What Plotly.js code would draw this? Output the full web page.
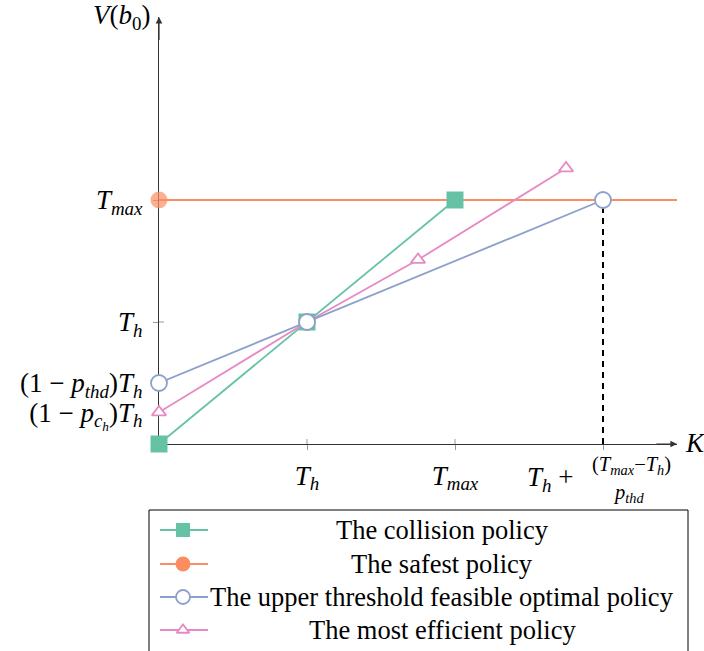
<!DOCTYPE html>
<html>
<head>
<meta charset="utf-8">
<script src="https://cdn.plot.ly/plotly-3.0.1.min.js"></script>
<style>html,body{margin:0;padding:0;background:#fff;}#chart{width:704px;height:651px;}</style>
</head>
<body>
<div id="chart"></div>
<script>
// ---- data ----
const seriesNames = ['The collision policy', 'The safest policy', 'The upper threshold feasible optimal policy', 'The most efficient policy'];
const collisionX = [0, 1, 2];
const collisionY = [0, 1, 2];
const safestX = [0, 3.5];
const safestY = [2, 2];
const thresholdX = [0, 1, 3];
const thresholdY = [0.5, 1, 2];
const efficientX = [0, 1, 1.75, 2.75];
const efficientY = [0.26, 1, 1.51, 2.26];
const dropX = [3, 3];
const dropY = [0, 2];
const xTickVals = [1, 2, 3];
const xTickText = ['<i>T<sub>h</sub></i>', '<i>T<sub>max</sub></i>', ''];
const yTickVals = [0.26, 0.5, 1, 2];
const yTickText = ['(1 − <i>p<sub>c<sub>h</sub></sub></i>)<i>T<sub>h</sub></i>', '(1 − <i>p<sub>thd</sub></i>)<i>T<sub>h</sub></i>', '<i>T<sub>h</sub></i>', '<i>T<sub>max</sub></i>'];
const xAxisLabel = '<i>K</i>';
const yAxisLabel = '<i>V</i>(<i>b</i><sub>0</sub>)';
const lastTickParts = ['<i>T<sub>h</sub></i> +', '(<i>T<sub>max</sub></i>−<i>T<sub>h</sub></i>)', '<i>p<sub>thd</sub></i>'];

// ---- styles ----
const colors = ['#66c2a5', '#fc8d62', '#8da0cb', '#e78ac3'];
const FONT = 'Liberation Serif, Times New Roman, serif';
const FS = 26.5;
const TFS = 27;
const W = 704, H = 651;
const plotL = 159, plotR = 677, plotT = 17, plotB = 444;
const legL = 149, legR = 688, legT = 510;

const markers = [
  {symbol: 'square', size: 17, color: colors[0], line: {width: 0}},
  {symbol: 'circle', size: 17, color: colors[1], line: {width: 0}},
  {symbol: 'circle', size: 16, color: '#ffffff', line: {width: 1.8, color: colors[2]}},
  {symbol: 'triangle-up', size: 12.5, color: '#ffffff', line: {width: 1.8, color: colors[3]}}
];
const legMarkers = [
  {symbol: 'square', size: 14, color: colors[0], line: {width: 0}},
  {symbol: 'circle', size: 15, color: colors[1], line: {width: 0}},
  {symbol: 'circle', size: 14, color: '#ffffff', line: {width: 1.8, color: colors[2]}},
  {symbol: 'triangle-up', size: 11, color: '#ffffff', line: {width: 1.8, color: colors[3]}}
];

const seriesX = [collisionX, safestX, thresholdX, efficientX];
const seriesY = [collisionY, safestY, thresholdY, efficientY];

const traces = [];
// dashed drop line (below markers)
traces.push({x: dropX, y: dropY, type: 'scatter', mode: 'lines', line: {color: '#000', width: 2, dash: '6px,5px'}, showlegend: false, hoverinfo: 'skip', cliponaxis: false});

const drawOrder = [1, 0, 3, 2];
drawOrder.forEach(i => {
  const mk = Object.assign({}, markers[i]);
  if (i === 1) mk.size = seriesX[i].map((v, k) => k === 0 ? markers[i].size : 0);
  traces.push({
    x: seriesX[i], y: seriesY[i], type: 'scatter', mode: 'lines+markers',
    name: seriesNames[i], line: {color: colors[i], width: 1.8}, marker: mk,
    showlegend: false, cliponaxis: false
  });
});

// manual legend (centered text) in a second subplot
const rowY = [20, 54, 87, 120];
const symX0 = 11, symX1 = 59, symXm = 34, textX = 293;
seriesNames.forEach((n, i) => {
  traces.push({x: [symX0, symX1], y: [rowY[i], rowY[i]], xaxis: 'x2', yaxis: 'y2', type: 'scatter', mode: 'lines',
    line: {color: colors[i], width: 1.8}, showlegend: false, hoverinfo: 'skip', cliponaxis: false});
  traces.push({x: [symXm], y: [rowY[i]], xaxis: 'x2', yaxis: 'y2', type: 'scatter', mode: 'markers',
    marker: legMarkers[i], showlegend: false, hoverinfo: 'skip', cliponaxis: false});
});

const annotations = [];
seriesNames.forEach((n, i) => {
  annotations.push({xref: 'x2', yref: 'y2', x: textX, y: rowY[i], text: n, showarrow: false,
    xanchor: 'center', yanchor: 'middle', font: {family: FONT, size: FS, color: '#000'}});
});
// axis arrows
annotations.push({xref: 'x', yref: 'y', x: 3.5, y: 0, axref: 'x', ayref: 'y', ax: 3.35, ay: 0, text: '',
  showarrow: true, arrowhead: 2, arrowsize: 1.1, arrowwidth: 1.2, arrowcolor: '#333'});
annotations.push({xref: 'x', yref: 'y', x: 0, y: 3.5, axref: 'x', ayref: 'y', ax: 0, ay: 3.3, text: '',
  showarrow: true, arrowhead: 2, arrowsize: 1.1, arrowwidth: 1.2, arrowcolor: '#333'});
// axis labels
annotations.push({xref: 'x', yref: 'y', x: 3.5, y: 0, text: xAxisLabel, showarrow: false, xanchor: 'left', yanchor: 'middle', xshift: 6, yshift: 1,
  font: {family: FONT, size: TFS, color: '#000'}});
annotations.push({xref: 'x', yref: 'y', x: 0, y: 3.5, text: yAxisLabel, showarrow: false, xanchor: 'right', yanchor: 'middle', xshift: -7, yshift: 0,
  font: {family: FONT, size: TFS, color: '#000'}});
// composite last x tick label
annotations.push({xref: 'x', yref: 'y', x: xTickVals[2], y: 0, text: lastTickParts[0], showarrow: false, xanchor: 'center', yanchor: 'middle',
  xshift: -53, yshift: -35, font: {family: FONT, size: TFS, color: '#000'}});
annotations.push({xref: 'x', yref: 'y', x: xTickVals[2], y: 0, text: lastTickParts[1], showarrow: false, xanchor: 'center', yanchor: 'middle',
  xshift: 28, yshift: -21, font: {family: FONT, size: 20.5, color: '#000'}});
annotations.push({xref: 'x', yref: 'y', x: xTickVals[2], y: 0, text: lastTickParts[2], showarrow: false, xanchor: 'center', yanchor: 'middle',
  xshift: 25, yshift: -49, font: {family: FONT, size: 20.5, color: '#000'}});

const shapes = [];
// fraction bar
shapes.push({type: 'line', xref: 'x', yref: 'y', xsizemode: 'pixel', ysizemode: 'pixel', xanchor: xTickVals[2], yanchor: 0,
  x0: -21, x1: 75, y0: -35, y1: -35, line: {color: '#000', width: 1.2}});
// inner halves of the crossing ticks
xTickVals.forEach(v => shapes.push({type: 'line', xref: 'x', yref: 'y', xsizemode: 'pixel', ysizemode: 'pixel', xanchor: v, yanchor: 0,
  x0: 0, x1: 0, y0: 0, y1: 5, line: {color: '#999', width: 1}, layer: 'below'}));
yTickVals.forEach(v => shapes.push({type: 'line', xref: 'x', yref: 'y', xsizemode: 'pixel', ysizemode: 'pixel', xanchor: 0, yanchor: v,
  x0: 0, x1: 5, y0: 0, y1: 0, line: {color: '#999', width: 1}, layer: 'below'}));
// legend border
shapes.push({type: 'rect', xref: 'x2 domain', yref: 'y2 domain', x0: 0, x1: 1, y0: -0.2, y1: 1,
  line: {color: '#000', width: 1}, fillcolor: 'rgba(0,0,0,0)'});

const layout = {
  width: W, height: H,
  margin: {l: 0, r: 0, t: 0, b: 0},
  paper_bgcolor: '#fff', plot_bgcolor: '#fff',
  showlegend: false,
  font: {family: FONT, size: FS, color: '#000'},
  xaxis: {domain: [plotL / W, plotR / W], range: [0, 3.5], anchor: 'y', showgrid: false, zeroline: false,
    showline: true, linecolor: '#333', linewidth: 1.2, layer: 'below traces',
    tickmode: 'array', tickvals: xTickVals, ticktext: xTickText, ticks: 'outside', ticklen: 5, tickcolor: '#999', tickwidth: 1,
    ticklabelstandoff: 2, tickfont: {family: FONT, size: TFS, color: '#000'}, fixedrange: true},
  yaxis: {domain: [1 - plotB / H, 1 - plotT / H], range: [0, 3.5], anchor: 'x', showgrid: false, zeroline: false,
    showline: true, linecolor: '#333', linewidth: 1.2, layer: 'below traces',
    tickmode: 'array', tickvals: yTickVals, ticktext: yTickText, ticks: 'outside', ticklen: 5, tickcolor: '#999', tickwidth: 1,
    ticklabelstandoff: 5, tickfont: {family: FONT, size: TFS, color: '#000'}, fixedrange: true},
  xaxis2: {domain: [legL / W, legR / W], range: [0, legR - legL], anchor: 'y2', visible: false, fixedrange: true},
  yaxis2: {domain: [0, 1 - legT / H], range: [H - legT, 0], anchor: 'x2', visible: false, fixedrange: true},
  annotations: annotations,
  shapes: shapes
};

Plotly.newPlot('chart', traces, layout, {displayModeBar: false, staticPlot: true});
</script>
</body>
</html>
